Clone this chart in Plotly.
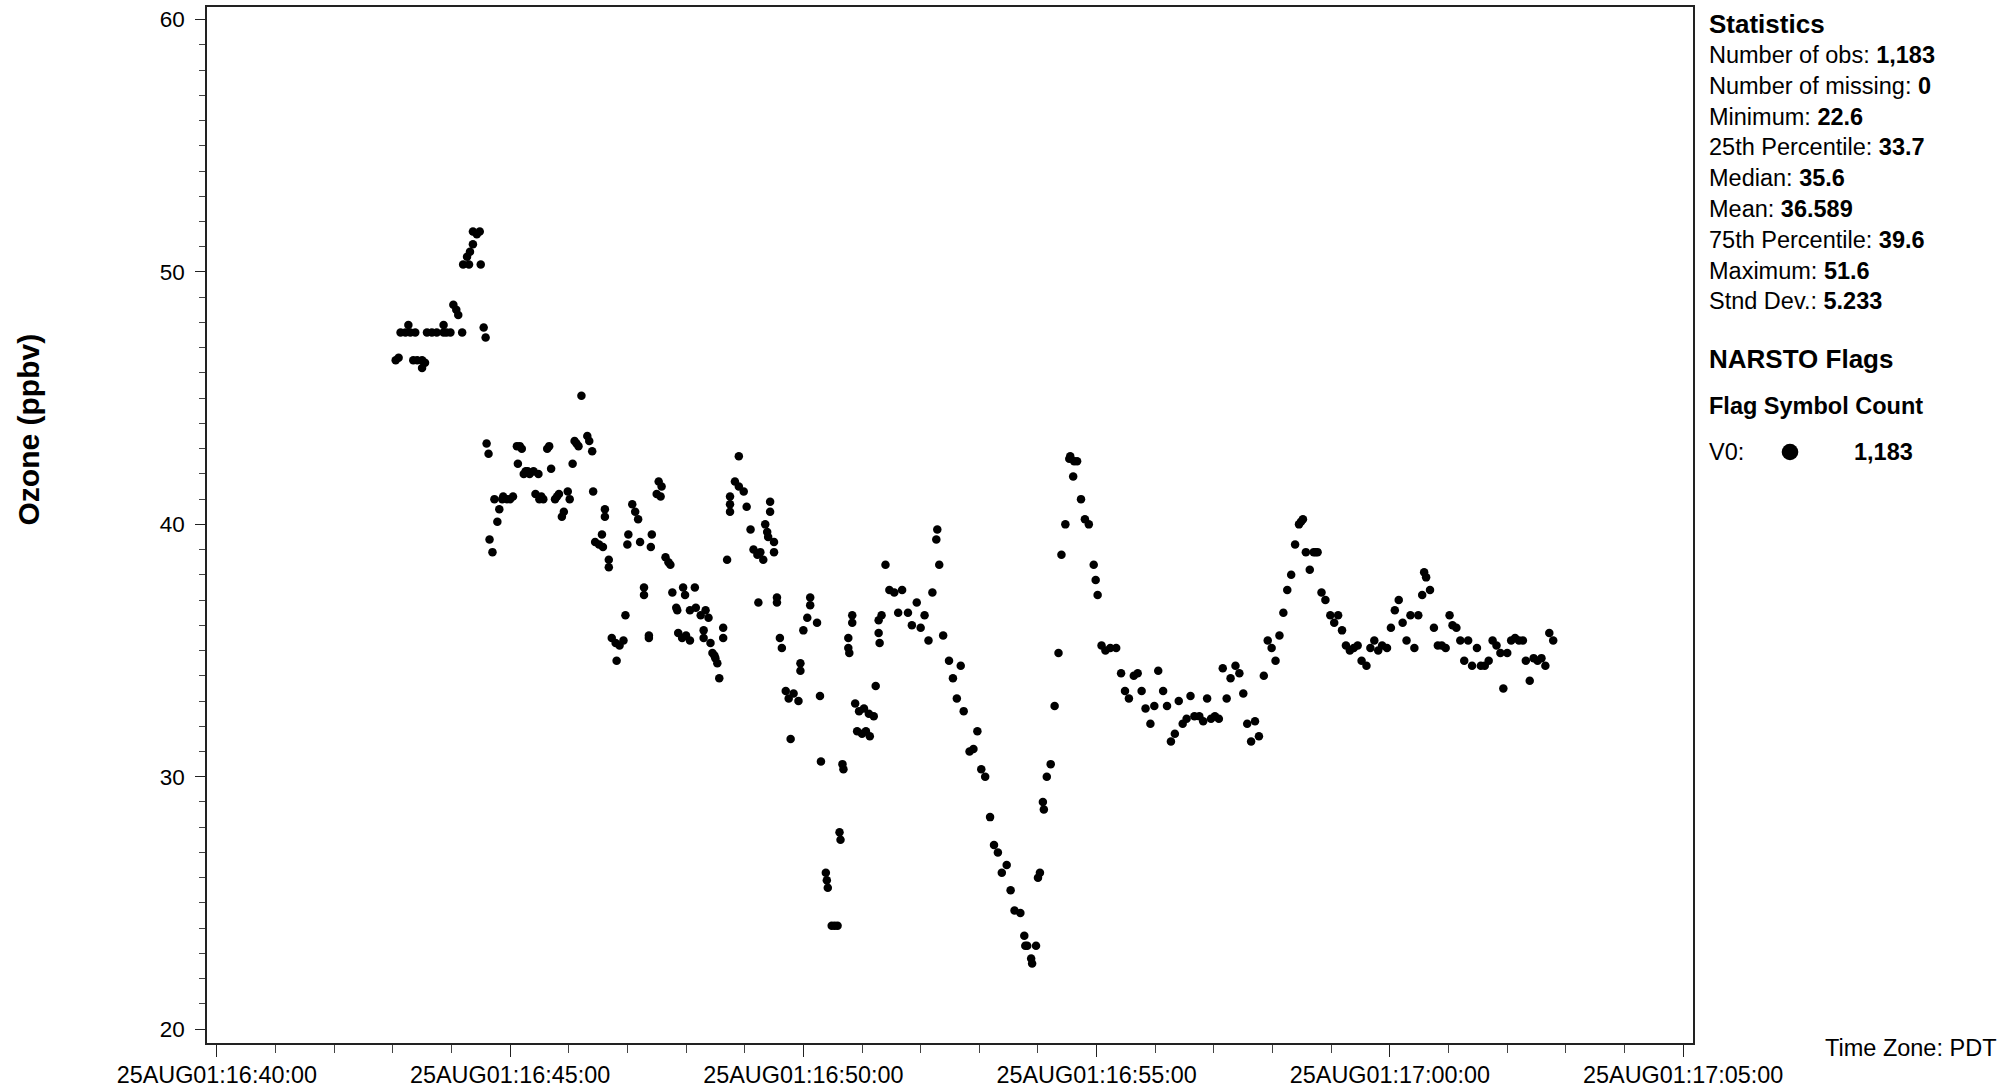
import pandas as pd
import plotly.graph_objects as go

# ---------------- data ----------------
# seconds after 25AUG01:16:40:00 (PDT) and ozone (ppbv)
seconds = [
    # 16:43 - 16:44:35
    183, 186, 201, 205, 210, 213, 210, 188, 193, 196, 198, 203, 215, 220, 225, 232, 232, 235, 239,
    242, 245, 247, 251, 252, 258, 270, 256, 259, 262, 262, 266, 269, 273, 275,
    # 16:44:36 - 16:46:15
    276, 278, 279, 282, 284, 287, 289, 292, 293, 297, 300, 303, 307, 308, 310, 312, 314, 316, 318,
    320, 324, 326, 329, 330, 332, 334, 338, 340, 342, 346, 348, 350, 353, 355, 359, 361, 364, 366,
    368, 370, 373,
    # 16:46:15 - 16:50:20
    379, 381, 384, 385, 387, 391, 394, 395, 397, 397, 401, 401, 404, 408, 409, 412, 416, 418, 420,
    421, 425, 428, 431, 433, 437, 437, 442, 442, 444, 445, 450, 452, 454, 455, 459, 462, 464, 466,
    470, 471, 472, 476, 477, 479, 480, 484, 484, 489, 490, 495, 498, 498, 500, 503, 505, 507, 509,
    510, 512, 514, 518, 518, 522, 525, 525, 525, 530, 534, 534, 539, 542, 546, 549, 553, 554, 556,
    559, 561, 563, 564, 566, 566, 570, 570, 573, 573, 576, 578, 582, 585, 587, 590, 595, 597, 597,
    600, 604, 607, 607, 614, 617,
    # 16:50:18 - 16:51:20
    618, 623, 624, 625, 629, 632, 635, 637, 638, 640, 641, 646, 646, 647, 650, 650, 653, 655, 657,
    660, 662, 664, 667, 668, 672, 674, 677, 677, 678,
    # 16:51:20 - 16:55:20
    680, 684, 688, 693, 697, 701, 707, 711, 716, 720, 724, 728, 732, 736, 737, 739, 743, 749, 753,
    757, 761, 764, 770, 774, 778, 782, 786, 791, 795, 799, 803, 808, 812, 816, 822, 826, 827, 829,
    833, 834, 838, 840, 842, 845, 846, 849, 853, 857, 861, 864, 868, 872, 873, 876, 877, 880, 884,
    888, 892, 897, 899, 901, 905, 909, 914, 920,
    # 16:55:20 - 17:03
    925, 929, 933, 938, 942, 946, 950, 955, 959, 963, 968, 972, 976, 980, 984, 988, 992, 996, 1000,
    1005, 1009, 1013, 1017, 1021, 1025, 1029, 1033, 1037, 1042, 1046, 1050, 1054, 1058, 1062, 1066,
    1071, 1075, 1079, 1083, 1087, 1091, 1095, 1099, 1103, 1107, 1109, 1111, 1114, 1118, 1122, 1124,
    1126, 1130, 1134, 1139, 1143, 1147, 1151, 1155, 1159, 1163, 1167, 1171, 1176, 1180, 1184, 1188,
    1192, 1197, 1201, 1205, 1209, 1213, 1217, 1221, 1225, 1229, 1233, 1235, 1237, 1241, 1245, 1249,
    1253, 1257, 1261, 1264, 1268, 1272, 1276, 1280, 1284, 1289, 1293, 1297, 1301, 1305, 1309, 1313,
    1316, 1320, 1324, 1328, 1332, 1336, 1339, 1343, 1347, 1351, 1355, 1359, 1363, 1367,
]
ozone = [
    # 16:43 - 16:44:35
    46.5, 46.6, 46.5, 46.5, 46.5, 46.4, 46.2, 47.6, 47.6, 47.9, 47.6, 47.6, 47.6, 47.6, 47.6, 47.9, 47.6, 47.6, 47.6,
    48.7, 48.5, 48.3, 47.6, 50.3, 50.3, 50.3, 50.6, 50.8, 51.1, 51.6, 51.5, 51.6, 47.8, 47.4,
    # 16:44:36 - 16:46:15
    43.2, 42.8, 39.4, 38.9, 41.0, 40.1, 40.6, 41.0, 41.1, 41.0, 41.0, 41.1, 43.1, 42.4, 43.1, 43.0, 42.0, 42.1, 42.1,
    42.0, 42.1, 41.2, 42.0, 41.0, 41.1, 41.0, 43.0, 43.1, 42.2, 41.0, 41.1, 41.2, 40.3, 40.5, 41.3, 41.0, 42.4, 43.3,
    43.2, 43.1, 45.1,
    # 16:46:15 - 16:50:20
    43.5, 43.3, 42.9, 41.3, 39.3, 39.2, 39.6, 39.1, 40.6, 40.3, 38.6, 38.3, 35.5, 35.3, 34.6, 35.2, 35.4, 36.4, 39.2,
    39.6, 40.8, 40.5, 40.2, 39.3, 37.5, 37.2, 35.6, 35.5, 39.1, 39.6, 41.2, 41.7, 41.1, 41.5, 38.7, 38.5, 38.4, 37.3,
    36.7, 36.6, 35.7, 35.5, 37.5, 37.2, 35.6, 35.4, 36.6, 37.5, 36.7, 36.4, 35.8, 35.5, 36.6, 36.3, 35.3, 34.9, 34.8,
    34.7, 34.5, 33.9, 35.9, 35.5, 38.6, 41.1, 40.8, 40.5, 41.7, 42.7, 41.5, 41.3, 40.7, 39.8, 39.0, 38.8, 36.9, 38.9,
    38.6, 40.0, 39.7, 39.5, 40.9, 40.5, 39.3, 38.9, 37.1, 36.9, 35.5, 35.1, 33.4, 33.1, 31.5, 33.3, 33.0, 34.5, 34.2,
    35.8, 36.3, 37.1, 36.8, 36.1, 33.2,
    # 16:50:18 - 16:51:20
    30.6, 26.2, 25.9, 25.6, 24.1, 24.1, 24.1, 27.8, 27.5, 30.5, 30.3, 35.5, 35.1, 34.9, 36.4, 36.1, 32.9, 31.8, 32.6,
    31.7, 32.7, 31.8, 32.5, 31.6, 32.4, 33.6, 36.2, 35.7, 35.3,
    # 16:51:20 - 16:55:20
    36.4, 38.4, 37.4, 37.3, 36.5, 37.4, 36.5, 36.0, 36.9, 35.9, 36.4, 35.4, 37.3, 39.4, 39.8, 38.4, 35.6, 34.6, 33.9,
    33.1, 34.4, 32.6, 31.0, 31.1, 31.8, 30.3, 30.0, 28.4, 27.3, 27.0, 26.2, 26.5, 25.5, 24.7, 24.6, 23.7, 23.3, 23.3,
    22.8, 22.6, 23.3, 26.0, 26.2, 29.0, 28.7, 30.0, 30.5, 32.8, 34.9, 38.8, 40.0, 42.6, 42.7, 41.9, 42.5, 42.5, 41.0,
    40.2, 40.0, 38.4, 37.8, 37.2, 35.2, 35.0, 35.1, 35.1,
    # 16:55:20 - 17:03
    34.1, 33.4, 33.1, 34.0, 34.1, 33.4, 32.7, 32.1, 32.8, 34.2, 33.4, 32.8, 31.4, 31.7, 33.0, 32.1, 32.3, 33.2, 32.4,
    32.4, 32.2, 33.1, 32.3, 32.4, 32.3, 34.3, 33.1, 33.9, 34.4, 34.1, 33.3, 32.1, 31.4, 32.2, 31.6,
    34.0, 35.4, 35.1, 34.6, 35.6, 36.5, 37.4, 38.0, 39.2, 40.0, 40.1, 40.2, 38.9, 38.2, 38.9, 38.9,
    38.9, 37.3, 37.0, 36.4, 36.1, 36.4, 35.8, 35.2, 35.0, 35.1, 35.2, 34.6, 34.4, 35.1, 35.4, 35.0,
    35.2, 35.1, 35.9, 36.6, 37.0, 36.1, 35.4, 36.4, 35.1, 36.4, 37.2, 38.1, 37.9, 37.4, 35.9, 35.2,
    35.2, 35.1, 36.4, 36.0, 35.9, 35.4, 34.6, 35.4, 34.4, 35.1, 34.4, 34.4, 34.6, 35.4, 35.2, 34.9,
    33.5, 34.9, 35.4, 35.5, 35.4, 35.4, 34.6, 33.8, 34.7, 34.6, 34.7, 34.4, 35.7, 35.4,
]

base_time = "2001-08-25 16:40:00"
x_tick_times = ["2001-08-25 16:40:00", "2001-08-25 16:45:00", "2001-08-25 16:50:00",
                "2001-08-25 16:55:00", "2001-08-25 17:00:00", "2001-08-25 17:05:00"]
x_tick_labels = ["25AUG01:16:40:00", "25AUG01:16:45:00", "25AUG01:16:50:00",
                 "25AUG01:16:55:00", "25AUG01:17:00:00", "25AUG01:17:05:00"]
y_ticks = [20, 30, 40, 50, 60]

stat_labels = ["Number of obs", "Number of missing", "Minimum", "25th Percentile", "Median",
               "Mean", "75th Percentile", "Maximum", "Stnd Dev."]
stat_values = ["1,183", "0", "22.6", "33.7", "35.6", "36.589", "39.6", "51.6", "5.233"]
flag_name = "V0"
flag_count = "1,183"

# ---------------- figure ----------------
times = pd.Timestamp(base_time) + pd.to_timedelta(seconds, unit="s")

W, H = 2011, 1089
L, R, T, B = 207, 318, 7, 46
PW, PH = W - L - R, H - T - B

def px(xp):
    return (xp - L) / PW

def py(yp):
    return (H - B - yp) / PH

FONT = "Liberation Sans, Arial, Helvetica, sans-serif"

fig = go.Figure()
fig.add_trace(go.Scatter(
    x=times, y=ozone, mode="markers",
    marker=dict(size=8.5, color="black", line=dict(width=0)),
    showlegend=False, hoverinfo="x+y",
))

fig.update_layout(
    width=W, height=H,
    margin=dict(l=L, r=R, t=T, b=B, pad=0, autoexpand=False),
    paper_bgcolor="white", plot_bgcolor="white",
    font=dict(family=FONT, color="black"),
    showlegend=False,
)

fig.update_xaxes(
    type="date", automargin=False,
    range=["2001-08-25 16:39:50", "2001-08-25 17:05:10"],
    tickmode="array", tickvals=x_tick_times, ticktext=x_tick_labels,
    ticks="outside", ticklen=12, tickwidth=1.2, tickcolor="#222",
    minor=dict(ticks="outside", ticklen=8, tickwidth=1.2, tickcolor="#444",
               dtick=60000, tick0="2001-08-25 16:40:00", showgrid=False),
    showline=True, linecolor="#222", linewidth=1.5, mirror=True,
    showgrid=False, zeroline=False,
    tickfont=dict(family=FONT, size=23.4, color="black"),
    ticklabelstandoff=-2,
)
fig.update_yaxes(
    automargin=False,
    range=[19.45, 60.5],
    tickmode="array", tickvals=y_ticks,
    ticks="outside", ticklen=10, tickwidth=1.2, tickcolor="#222",
    minor=dict(ticks="outside", ticklen=6, tickwidth=1.2, tickcolor="#444",
               dtick=1, tick0=0, showgrid=False),
    showline=True, linecolor="#222", linewidth=1.5, mirror=True,
    showgrid=False, zeroline=False,
    tickfont=dict(family=FONT, size=22.5, color="black"),
    ticklabelstandoff=6,
)

ann = []
# y-axis title
ann.append(dict(x=px(27.5), y=py(430), xref="paper", yref="paper",
                text="<b>Ozone (ppbv)</b>", textangle=-90, showarrow=False,
                xanchor="center", yanchor="middle",
                font=dict(family=FONT, size=30, color="black")))

TX = px(1707)
BODY = 23.5
HEAD = 26
ann.append(dict(x=TX, y=py(23.5), xref="paper", yref="paper", text="<b>Statistics</b>",
                showarrow=False, xanchor="left", yanchor="middle",
                font=dict(family=FONT, size=HEAD, color="black")))
for i, (lab, val) in enumerate(zip(stat_labels, stat_values)):
    ann.append(dict(x=TX, y=py(55 + 30.8 * i), xref="paper", yref="paper",
                    text=f"{lab}: <b>{val}</b>", showarrow=False,
                    xanchor="left", yanchor="middle",
                    font=dict(family=FONT, size=BODY, color="black")))
ann.append(dict(x=TX, y=py(359), xref="paper", yref="paper", text="<b>NARSTO Flags</b>",
                showarrow=False, xanchor="left", yanchor="middle",
                font=dict(family=FONT, size=HEAD, color="black")))
ann.append(dict(x=TX, y=py(406), xref="paper", yref="paper", text="<b>Flag Symbol Count</b>",
                showarrow=False, xanchor="left", yanchor="middle",
                font=dict(family=FONT, size=BODY, color="black")))
ann.append(dict(x=TX, y=py(452), xref="paper", yref="paper", text=f"{flag_name}:",
                showarrow=False, xanchor="left", yanchor="middle",
                font=dict(family=FONT, size=BODY, color="black")))
ann.append(dict(x=px(1852), y=py(452), xref="paper", yref="paper", text=f"<b>{flag_count}</b>",
                showarrow=False, xanchor="left", yanchor="middle",
                font=dict(family=FONT, size=BODY, color="black")))
ann.append(dict(x=px(1999), y=py(1048), xref="paper", yref="paper", text="Time Zone: PDT",
                showarrow=False, xanchor="right", yanchor="middle",
                font=dict(family=FONT, size=BODY, color="black")))
fig.update_layout(annotations=ann)

# legend symbol
fig.add_shape(type="circle", xref="paper", yref="paper",
              xsizemode="pixel", ysizemode="pixel",
              xanchor=px(1790), yanchor=py(452),
              x0=-8.3, x1=8.3, y0=-8.3, y1=8.3,
              fillcolor="black", line=dict(width=0))

fig.write_html("out.html", config={"displayModeBar": False},
               post_script="document.body.style.margin='0px';")
